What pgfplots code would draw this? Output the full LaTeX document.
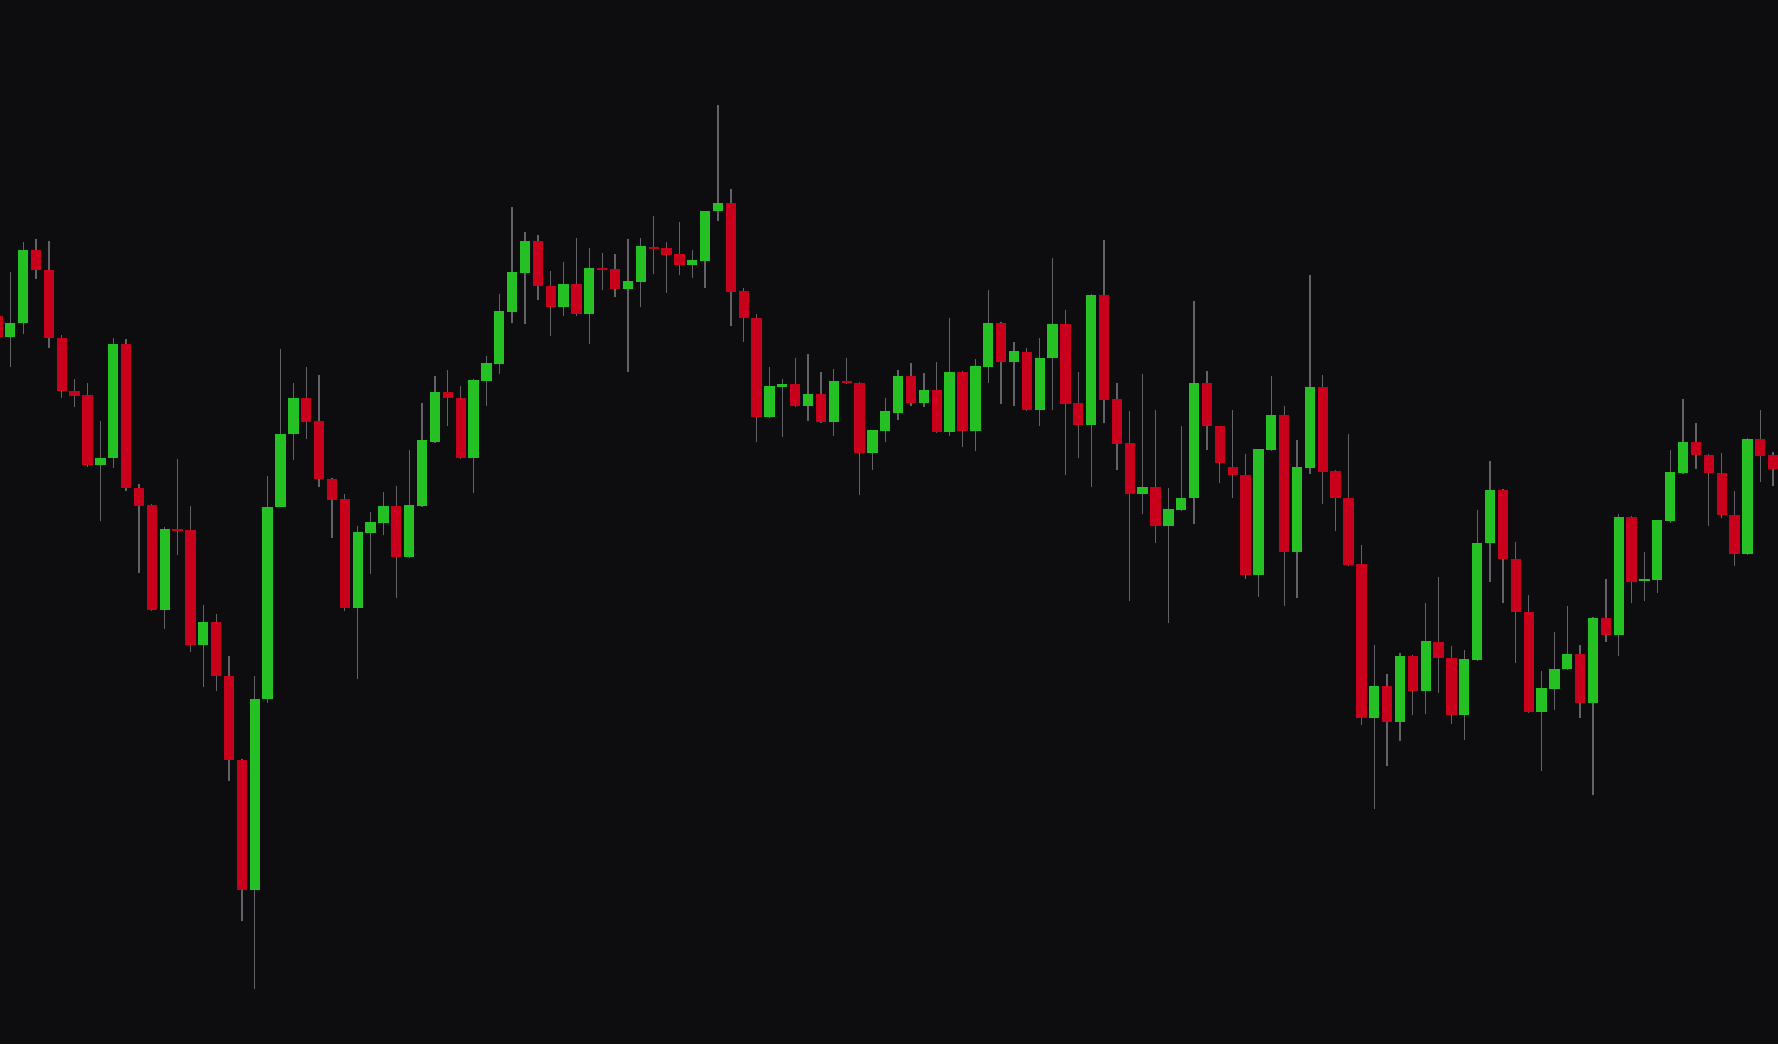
\documentclass[border=0pt]{standalone}
\usepackage{pgfplots}
\usepackage{pgfplotstable}
\pgfplotsset{compat=1.18}

\definecolor{bgc}{RGB}{13,13,16}
\definecolor{upc}{RGB}{36,192,36}
\definecolor{downc}{RGB}{200,0,28}
\definecolor{wickc}{RGB}{98,98,104}

% k open high low close
\pgfplotstableread{
k open high low close
0 72.80 73.90 69.90 70.71
1 70.71 77.18 67.73 72.15
2 72.10 80.16 70.96 79.42
3 79.42 80.51 76.53 77.38
4 77.38 80.31 69.57 70.56
5 70.61 70.86 64.64 65.34
6 65.34 66.48 63.75 64.84
7 64.89 66.13 57.68 57.88
8 57.88 62.30 52.26 58.62
9 58.62 70.61 57.63 70.01
10 70.01 70.46 55.34 55.64
11 55.64 56.04 47.08 53.85
12 53.90 54.00 43.35 43.45
13 43.45 51.71 41.51 51.51
14 51.51 58.52 48.92 51.31
15 51.36 53.85 39.17 39.87
16 39.87 43.90 35.74 42.21
17 42.21 43.00 35.34 36.83
18 36.83 38.82 26.34 28.43
19 28.43 28.50 12.26 15.44
20 15.44 36.78 5.55 34.55
21 34.55 56.78 34.15 53.75
22 53.75 69.52 53.70 61.01
23 61.01 66.08 58.37 64.59
24 64.60 67.73 60.50 62.22
25 62.29 66.87 55.75 56.51
26 56.51 56.61 50.58 54.44
27 54.47 55.03 43.35 43.59
28 43.59 51.79 36.46 51.20
29 51.13 53.20 46.97 52.17
30 52.10 55.20 50.93 53.82
31 53.82 55.82 44.56 48.72
32 48.72 59.37 48.62 53.89
33 53.82 64.12 53.72 60.40
34 60.23 66.80 60.13 65.19
35 65.19 67.36 61.84 64.63
36 64.60 65.77 58.54 58.64
37 58.64 66.49 55.06 66.39
38 66.32 68.80 63.84 68.08
39 68.04 74.97 67.05 73.28
40 73.24 83.71 72.11 77.20
41 77.14 81.17 72.00 80.27
42 80.27 80.89 74.45 75.76
43 75.79 77.27 70.83 73.69
44 73.69 78.20 72.83 76.00
45 76.00 80.61 72.83 73.00
46 72.97 79.60 70.00 77.60
47 77.60 79.10 75.40 77.40
48 77.50 79.00 74.73 75.50
49 75.50 80.50 67.23 76.30
50 76.23 80.60 73.73 79.77
51 79.70 82.80 77.03 79.50
52 79.60 80.17 75.13 78.90
53 78.97 82.20 76.90 77.93
54 77.93 79.40 76.57 78.40
55 78.33 83.33 75.63 83.27
56 83.30 93.90 82.33 84.07
57 84.07 85.50 71.83 75.23
58 75.27 75.60 70.23 72.57
59 72.60 73.00 60.17 62.73
60 62.73 67.67 62.63 65.77
61 65.73 66.50 60.73 66.00
62 66.00 68.57 63.73 63.77
63 63.77 69.00 62.33 64.97
64 64.97 67.20 62.07 62.17
65 62.17 67.47 60.83 66.30
66 66.30 68.63 66.00 66.10
67 66.13 66.20 54.90 59.13
68 59.13 61.40 57.40 61.37
69 61.27 64.63 60.17 63.27
70 63.10 67.40 62.43 66.80
71 66.80 68.07 63.80 64.07
72 64.07 67.07 63.67 65.40
73 65.40 68.20 61.10 61.20
74 61.20 72.60 60.84 67.20
75 67.20 67.30 59.67 61.27
76 61.27 68.47 59.33 67.83
77 67.73 75.37 66.07 72.07
78 72.07 72.17 64.00 68.20
79 68.20 70.17 63.80 69.27
80 69.20 69.60 63.30 63.40
81 63.40 70.60 61.80 68.60
82 68.57 78.60 63.40 72.00
83 72.00 73.40 56.90 64.03
84 64.07 67.20 58.60 61.90
85 61.90 74.97 55.67 74.87
86 74.87 80.40 62.07 64.40
87 64.47 66.07 57.40 60.00
88 60.07 63.27 44.30 55.00
89 55.00 66.97 53.00 55.67
90 55.67 63.40 50.07 51.83
91 51.84 55.59 42.14 53.52
92 53.37 61.81 53.27 54.61
93 54.57 74.31 52.03 66.13
94 66.13 67.29 59.37 61.77
95 61.77 61.80 56.10 58.10
96 57.73 63.40 54.57 56.86
97 56.86 58.97 46.50 46.94
98 46.94 59.52 44.68 59.48
99 59.44 66.79 59.34 62.93
100 62.93 63.77 43.77 49.16
101 49.16 60.39 44.57 57.66
102 57.59 76.93 57.04 65.73
103 65.73 66.86 54.03 57.23
104 57.26 57.36 51.30 54.57
105 54.57 61.00 47.82 47.92
106 47.99 49.88 31.89 32.61
107 32.61 39.88 23.53 35.78
108 35.78 36.98 27.78 32.22
109 32.22 39.12 30.32 38.79
110 38.79 38.89 32.87 35.30
111 35.30 44.14 32.98 40.29
112 40.25 46.68 35.12 38.61
113 38.61 39.78 32.03 32.87
114 32.87 39.41 30.43 38.47
115 38.40 53.40 38.30 50.13
116 50.10 58.30 46.17 55.40
117 55.40 55.50 44.13 48.50
118 48.53 50.17 38.13 43.23
119 43.20 44.90 33.13 33.23
120 33.23 37.30 27.33 35.57
121 35.53 41.17 33.40 37.47
122 37.47 43.77 37.37 39.00
123 39.00 39.90 32.57 34.13
124 34.13 42.73 24.90 42.63
125 42.60 46.47 40.23 40.90
126 40.90 53.00 38.83 52.67
127 52.67 52.77 44.13 46.23
128 46.27 49.20 44.33 46.47
129 46.40 52.40 45.13 52.37
130 52.33 59.40 52.13 57.20
131 57.13 64.47 56.97 60.20
132 60.20 62.07 57.53 58.90
133 58.90 59.00 51.83 57.07
134 57.07 59.07 52.63 52.90
135 52.93 55.30 47.83 49.00
136 49.00 60.63 48.90 60.53
137 60.53 63.40 56.17 58.83
138 58.87 59.20 55.83 57.53
}\candles

\begin{document}
\begin{tikzpicture}
\fill[bgc] (0,0) rectangle (17.78cm,10.44cm);
\begin{axis}[
    at={(0,0)}, anchor=south west,
    scale only axis,
    width=17.78cm,
    height=10.44cm,
    xmin=0.2, xmax=138.38,
    ymin=0, ymax=104.4,
    hide axis,
]
% wicks, low to high
\addplot[wickc, line width=0.013cm, -,
    quiver={u=0, v=\thisrow{high}-\thisrow{low}}]
    table[x=k, y=low] {\candles};
% rising bodies
\addplot[upc, line width=0.103cm, -,
    quiver={u=0, v=\thisrow{close}-\thisrow{open}},
    restrict expr to domain={\thisrow{close}-\thisrow{open}}{0:200}]
    table[x=k, y=open] {\candles};
% falling bodies
\addplot[downc, line width=0.103cm, -,
    quiver={u=0, v=\thisrow{close}-\thisrow{open}},
    restrict expr to domain={\thisrow{close}-\thisrow{open}}{-200:0}]
    table[x=k, y=open] {\candles};
\end{axis}
\pgfresetboundingbox
\path[use as bounding box] (0,0) rectangle (17.78cm,10.44cm);
\end{tikzpicture}
\end{document}
